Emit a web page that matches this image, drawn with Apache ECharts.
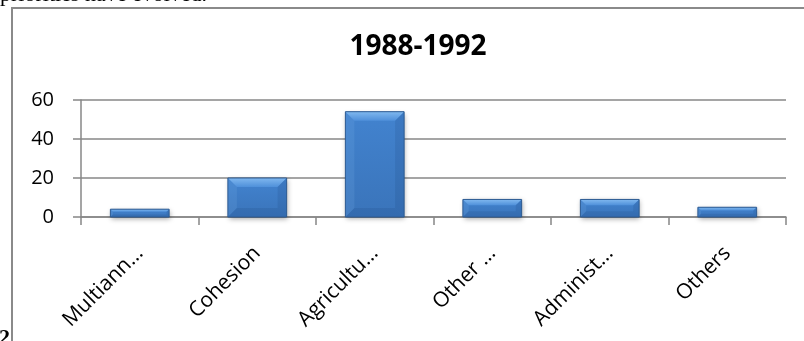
<!DOCTYPE html>
<html>
<head>
<meta charset="utf-8">
<script src="https://cdn.jsdelivr.net/npm/echarts@6/dist/echarts.min.js"></script>
<style>
  html, body { margin: 0; padding: 0; background: #fff; }
  #chart { width: 804px; height: 341px; }
</style>
</head>
<body>
<div id="chart"></div>
<script>
// Budget share by heading, 1988-1992
const categories = ['Multiann…', 'Cohesion', 'Agricultu…', 'Other …', 'Administ…', 'Others'];
const shares = [4, 20, 54, 9, 9, 5];
const yTicks = { min: 0, max: 60, interval: 20 };
const chartTitle = '1988-1992';

const GREY = '#878787';

// Bars with a bevelled edge: body, four bevel facets and an outline
function renderBevelBar(params, api) {
  const idx = api.value(0);
  const top = api.coord([idx, api.value(1)]);
  const base = api.coord([idx, 0]);
  const w = api.size([1, 0])[0] * 0.5;
  const x0 = top[0] - w / 2, x1 = top[0] + w / 2;
  const y0 = top[1], y1 = base[1];
  const h = y1 - y0;
  const b = Math.max(1.5, Math.min(9, h / 3, w / 5));
  const lin = (c0, c1) => new echarts.graphic.LinearGradient(0, 0, 0, 1, [
    { offset: 0, color: c0 }, { offset: 1, color: c1 }
  ]);
  return {
    type: 'group',
    children: [
      { type: 'rect', shape: { x: x0, y: y0, width: w, height: h },
        style: { fill: lin('#4283cf', '#3a74ba'), shadowBlur: 5, shadowOffsetY: 2, shadowOffsetX: 1,
                 shadowColor: 'rgba(0,0,0,0.35)' } },
      { type: 'polygon', shape: { points: [[x0, y0], [x1, y0], [x1 - b, y0 + b], [x0 + b, y0 + b]] },
        style: { fill: lin('#80b8ef', '#4f90da') } },
      { type: 'polygon', shape: { points: [[x0, y0], [x0 + b, y0 + b], [x0 + b, y1 - b], [x0, y1]] },
        style: { fill: 'rgba(120,175,235,0.18)' } },
      { type: 'polygon', shape: { points: [[x1, y0], [x1, y1], [x1 - b, y1 - b], [x1 - b, y0 + b]] },
        style: { fill: 'rgba(20,50,100,0.12)' } },
      { type: 'polygon', shape: { points: [[x0, y1], [x0 + b, y1 - b], [x1 - b, y1 - b], [x1, y1]] },
        style: { fill: 'rgba(20,50,100,0.12)' } },
      { type: 'rect', shape: { x: x0, y: y0, width: w, height: h },
        style: { fill: 'none', stroke: '#2d5b92', lineWidth: 1 } }
    ]
  };
}

const chart = echarts.init(document.getElementById('chart'), null, { renderer: 'canvas' });
chart.setOption({
  animation: false,
  backgroundColor: '#fff',
  title: {
    text: chartTitle,
    left: 413,
    top: 28,
    textAlign: 'center',
    textStyle: { fontFamily: 'Open Sans', fontWeight: 'bold', fontSize: 28, color: '#000' }
  },
  grid: { left: 81, right: 18, top: 100, bottom: 124, containLabel: false },
  xAxis: {
    type: 'category',
    data: categories,
    axisLine: { lineStyle: { color: GREY, width: 1.5 } },
    axisTick: { show: true, length: 8, lineStyle: { color: GREY, width: 1.5 } },
    axisLabel: {
      rotate: 45, margin: 33, interval: 0,
      fontFamily: 'Open Sans', fontSize: 21, color: '#000'
    }
  },
  yAxis: {
    type: 'value',
    min: yTicks.min, max: yTicks.max, interval: yTicks.interval,
    axisLine: { show: true, lineStyle: { color: GREY, width: 1.5 } },
    axisTick: { show: true, length: 8, lineStyle: { color: GREY, width: 1.5 } },
    splitLine: { lineStyle: { color: GREY, width: 1.5 } },
    axisLabel: { margin: 27, fontFamily: 'Open Sans', fontSize: 20, color: '#000' }
  },
  series: [{
    type: 'custom',
    renderItem: renderBevelBar,
    encode: { x: 0, y: 1 },
    data: shares.map((v, i) => [i, v])
  }],
  graphic: [
    { type: 'rect', z: -1, silent: true,
      shape: { x: 12, y: 8, width: 1000, height: 1000 },
      style: { fill: 'none', stroke: '#8a8a8a', lineWidth: 2 } },
    { type: 'text', left: 0, top: -16, silent: true,
      style: { text: 'priorities have evolved.', font: '22px "Liberation Serif"', fill: '#000' } },
    { type: 'text', left: -1, top: 327, silent: true,
      style: { text: '2', font: 'bold 22px "Liberation Serif"', fill: '#000' } }
  ]
});
</script>
</body>
</html>
